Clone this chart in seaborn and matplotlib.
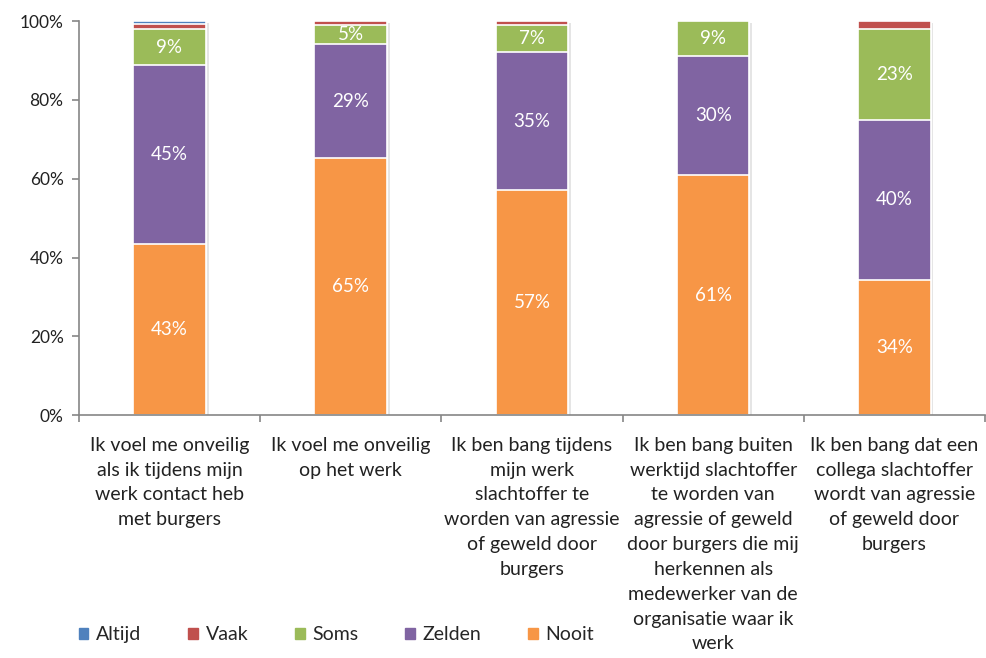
import numpy as np
import pandas as pd
import matplotlib
matplotlib.use('Agg')
import matplotlib.pyplot as plt
import matplotlib.patheffects as pe
import matplotlib.patches as mpatches
import seaborn as sns

# ── data ──────────────────────────────────────
statements = [
    "Ik voel me onveilig\nals ik tijdens mijn\nwerk contact heb\nmet burgers",
    "Ik voel me onveilig\nop het werk",
    "Ik ben bang tijdens\nmijn werk\nslachtoffer te\nworden van agressie\nof geweld door\nburgers",
    "Ik ben bang buiten\nwerktijd slachtoffer\nte worden van\nagressie of geweld\ndoor burgers die mij\nherkennen als\nmedewerker van de\norganisatie waar ik\nwerk",
    "Ik ben bang dat een\ncollega slachtoffer\nwordt van agressie\nof geweld door\nburgers",
]
nooit  = [43.4, 65.2, 57.1, 60.9, 34.4]
zelden = [45.4, 29.0, 35.0, 30.2, 40.5]
soms   = [9.2, 4.8, 6.9, 8.9, 23.2]
vaak   = [1.2, 1.0, 1.0, 0.0, 1.9]
altijd = [0.8, 0.0, 0.0, 0.0, 0.0]

series = ['Nooit', 'Zelden', 'Soms', 'Vaak', 'Altijd']
colors = {'Altijd': '#4F81BD', 'Vaak': '#C0504D', 'Soms': '#9BBB59',
          'Zelden': '#8064A2', 'Nooit': '#F79646'}

df = pd.DataFrame({'Stelling': statements, 'Nooit': nooit, 'Zelden': zelden,
                   'Soms': soms, 'Vaak': vaak, 'Altijd': altijd})
cum = df[series].cumsum(axis=1)

# ── plot ──────────────────────────────────────
sns.set_style('white')
plt.rcParams['font.family'] = ['Lato', 'DejaVu Sans']

fig = plt.figure(figsize=(9.86, 6.58), dpi=100)
ax = fig.add_axes([0.080, 0.369, 0.919, 0.599])

shadow = [pe.SimplePatchShadow(offset=(2, -1.5), shadow_rgbFace='#000000', alpha=0.1), pe.Normal()]

# draw cumulative bars from the top layer down so they stack
for k, s in enumerate(reversed(series)):
    sns.barplot(x=df['Stelling'], y=cum[s], color=colors[s], ax=ax, width=0.4,
                edgecolor='white', linewidth=1.2, saturation=1)
    if k == 0:
        for b in ax.patches:
            b.set_path_effects(shadow)

# value labels for the bigger segments
for s in ['Nooit', 'Zelden', 'Soms']:
    bottom = cum[s] - df[s]
    for i in range(len(df)):
        ax.text(i, bottom[i] + df[s][i] / 2, f"{df[s][i]:.0f}%", ha='center', va='center',
                color='white', fontsize=13.5)

ax.set_ylim(0, 100)
ax.set_xlim(-0.5, 4.5)
ax.set_yticks(np.arange(0, 101, 20))
ax.set_yticklabels([f"{v}%" for v in range(0, 101, 20)], fontsize=12.5, color='#222222')
ax.set_xticks(np.arange(len(df)))
ax.set_xticklabels(statements, fontsize=14, color='#222222', linespacing=1.56)
ax.set_xticks(np.arange(-0.5, 5, 1), minor=True)
ax.set_xlabel('')
ax.set_ylabel('')

for side in ['top', 'right']:
    ax.spines[side].set_visible(False)
for side in ['left', 'bottom']:
    ax.spines[side].set_color('#868686')
    ax.spines[side].set_linewidth(1.2)
ax.tick_params(axis='y', which='major', left=True, length=5, color='#868686', width=1.2, pad=6)
ax.tick_params(axis='x', which='major', bottom=False, pad=12)
ax.tick_params(axis='x', which='minor', bottom=True, length=5, color='#868686', width=1.2)

handles = [mpatches.Patch(color=colors[s], label=s) for s in ['Altijd', 'Vaak', 'Soms', 'Zelden', 'Nooit']]
fig.legend(handles=handles, loc='center left', bbox_to_anchor=(0.062, 0.035), ncol=5,
           frameon=False, fontsize=14, handlelength=0.5, handleheight=0.5,
           handletextpad=0.4, columnspacing=2.4)

plt.savefig('out.png', dpi=100)
plt.close()
